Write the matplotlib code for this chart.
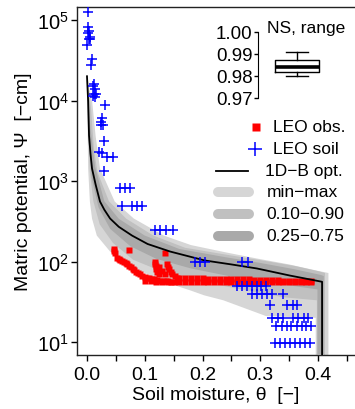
import numpy as np
import matplotlib
matplotlib.use('Agg')
import matplotlib.pyplot as plt
from matplotlib.ticker import FixedLocator, NullFormatter, FixedFormatter, NullLocator

plt.rcParams['font.family'] = ['Liberation Sans', 'DejaVu Sans']
plt.rcParams['mathtext.fontset'] = 'custom'
plt.rcParams['mathtext.rm'] = 'Liberation Sans'
plt.rcParams['mathtext.it'] = 'Liberation Sans:italic'

# ---------------- data ----------------
# 1D-B optimal retention curve (theta [-], psi [-cm])
line_theta = [0.0, 0.001, 0.002, 0.0035, 0.006, 0.0087, 0.015, 0.0225, 0.030, 0.040,
              0.055, 0.078, 0.105, 0.144, 0.204, 0.25, 0.294, 0.351, 0.407, 0.407]
line_psi = [20000, 14000, 9700, 3700, 2200, 1430, 900, 556, 440, 342,
            270, 210, 165, 133, 103, 92, 82, 67, 56, 5]

# min-max band
minmax_up_theta = [0.000, 0.004, 0.009, 0.015, 0.0225, 0.048, 0.081, 0.133, 0.18, 0.24,
                   0.294, 0.35, 0.398, 0.418, 0.418]
minmax_up_psi = [21000, 14000, 9700, 3600, 1430, 556, 342, 210, 160, 130,
                 109, 92, 77, 72, 5]
minmax_lo_theta = [0.396, 0.396, 0.31, 0.236, 0.203, 0.178, 0.133, 0.083, 0.04, 0.017,
                   0.0087, 0.005, 0.002, 0.0]
minmax_lo_psi = [5, 20, 21, 33, 38, 44, 56, 82, 133, 210, 342, 556, 1430, 21000]

# 0.10-0.90 band
q1090_up_theta = [0.000, 0.003, 0.007, 0.012, 0.018, 0.038, 0.068, 0.115, 0.17, 0.24,
                  0.30, 0.36, 0.40, 0.412, 0.412]
q1090_up_psi = [20000, 13000, 8000, 2500, 1300, 560, 340, 210, 148, 122,
                104, 88, 76, 72, 5]
q1090_lo_theta = [0.398, 0.398, 0.34, 0.26, 0.19, 0.13, 0.08, 0.045, 0.022, 0.011,
                  0.005, 0.002, 0.0]
q1090_lo_psi = [5, 33, 36, 46, 58, 75, 105, 170, 290, 560, 1300, 4000, 20000]

# 0.25-0.75 band
q2575_up_theta = [0.001, 0.003, 0.006, 0.014, 0.03, 0.055, 0.1, 0.16, 0.24, 0.30,
                  0.36, 0.405, 0.41, 0.41]
q2575_up_psi = [18000, 9000, 4500, 1500, 560, 340, 210, 143, 113, 96, 80, 68, 66, 5]
q2575_lo_theta = [0.399, 0.399, 0.33, 0.25, 0.18, 0.12, 0.075, 0.04, 0.02, 0.008,
                  0.003, 0.001]
q2575_lo_psi = [5, 45, 53, 65, 82, 108, 155, 255, 470, 1100, 3000, 18000]

# LEO observations (red squares)
obs_theta = [0.046, 0.047, 0.048, 0.073, 0.135,
             0.052, 0.055, 0.058, 0.061, 0.064, 0.067, 0.070, 0.073, 0.076, 0.079,
             0.082, 0.085, 0.088, 0.092, 0.096, 0.100, 0.104, 0.108, 0.112, 0.116,
             0.121, 0.126, 0.131, 0.136, 0.141, 0.146,
             0.118, 0.118, 0.119, 0.120, 0.121, 0.124,
             0.138, 0.140, 0.142, 0.145, 0.148, 0.152, 0.156,
             0.125, 0.130, 0.135,
             0.100, 0.110, 0.120, 0.130, 0.140, 0.150,
             0.160, 0.170, 0.180, 0.190, 0.200, 0.210, 0.220, 0.230, 0.240, 0.250,
             0.260, 0.270, 0.280, 0.290, 0.300, 0.310, 0.320, 0.330, 0.340, 0.350,
             0.360, 0.370, 0.380, 0.388,
             0.160, 0.170, 0.180, 0.190, 0.200, 0.210, 0.220, 0.230, 0.240, 0.250,
             0.260, 0.270, 0.280, 0.290, 0.300, 0.310, 0.320, 0.330, 0.340, 0.350,
             0.360, 0.370, 0.380, 0.388]
obs_psi = [145, 136, 128, 141, 129,
           112, 106, 103, 101, 99, 96, 93, 89, 85, 81,
           78, 75, 72, 69, 67, 65, 63, 62, 61, 60,
           59, 58, 57, 57, 57, 56,
           100, 94, 88, 81, 75, 69,
           92, 86, 80, 75, 70, 66, 63,
           85, 77, 70,
           58, 57, 56, 55, 55, 55,
           63, 63, 62, 62, 62, 61, 61, 61, 61, 60,
           60, 60, 60, 59, 59, 59, 59, 59, 58, 58,
           58, 58, 58, 57,
           55, 55, 55, 55, 55, 55, 55, 55, 55, 55,
           55, 55, 55, 55, 55, 55, 55, 55, 56, 56,
           56, 56, 56, 56]

# LEO soil samples (blue pluses)
soil_theta = [0.002, 0.002, 0.003, 0.002, 0.005, 0.003, 0.006, 0.000, 0.008, 0.007,
              0.012, 0.011, 0.014, 0.012, 0.016, 0.011, 0.014,
              0.031, 0.026, 0.024, 0.028, 0.025, 0.030, 0.020, 0.026, 0.034, 0.045, 0.029,
              0.058, 0.066, 0.074,
              0.060, 0.078, 0.087, 0.095,
              0.118, 0.126, 0.137, 0.149,
              0.187, 0.196, 0.204, 0.268, 0.278,
              0.259, 0.268, 0.277, 0.285, 0.294, 0.302, 0.310,
              0.285, 0.294, 0.303, 0.311, 0.320, 0.340,
              0.316, 0.347, 0.356, 0.364,
              0.321, 0.330, 0.339, 0.357, 0.366, 0.375, 0.383,
              0.328, 0.337, 0.346, 0.354, 0.363, 0.372, 0.380, 0.387,
              0.326, 0.334, 0.343, 0.352, 0.360, 0.369, 0.377, 0.386]
soil_psi = [126000, 82000, 73000, 69000, 61000, 58000, 58000, 49000, 33000, 28000,
            16000, 15000, 14000, 12000, 12000, 11500, 11000,
            8800, 6000, 5400, 5000, 4900, 3100, 2300, 2200, 2000, 2000, 1350,
            810, 810, 810,
            495, 495, 495, 495,
            243, 243, 243, 243,
            100, 100, 100, 100, 100,
            50, 50, 50, 50, 50, 50, 50,
            39, 39, 39, 39, 39, 39,
            29, 29, 29, 29,
            20, 20, 20, 20, 20, 20, 20,
            15.6, 15.6, 15.6, 15.6, 15.6, 15.6, 15.6, 15.6,
            9.8, 9.8, 9.8, 9.8, 9.8, 9.8, 9.8, 9.8]

# Nash-Sutcliffe range (box plot summary)
ns_whislo, ns_q1, ns_med, ns_q3, ns_whishi = 0.980, 0.982, 0.9843, 0.9875, 0.991
ns_ticks = [0.97, 0.98, 0.99, 1.00]

x_ticks = [0.0, 0.1, 0.2, 0.3, 0.4]
x_minor = [0.05, 0.15, 0.25, 0.35, 0.45]
y_ticks = [1e1, 1e2, 1e3, 1e4, 1e5]

legend_labels = ['LEO obs.', 'LEO soil', '1D\u2212B opt.', 'min\u2212max',
                 '0.10\u22120.90', '0.25\u22120.75']

c_minmax, c_1090, c_2575 = '#d6d6d6', '#c0c0c0', '#a9a9a9'

# ---------------- figure ----------------
W, H = 355, 410
fig = plt.figure(figsize=(W / 100, H / 100), dpi=100)

def px(x0, y0, x1, y1):
    return [x0 / W, 1 - y1 / H, (x1 - x0) / W, (y1 - y0) / H]

ax = fig.add_axes(px(77, 8, 355, 356))
ax.set_yscale('log')
ax.set_xlim(-0.0173, 0.464)
ax.set_ylim(6.9, 1.45e5)

ax.fill(minmax_up_theta + minmax_lo_theta, minmax_up_psi + minmax_lo_psi,
        color=c_minmax, lw=0, zorder=1)
ax.fill(q1090_up_theta + q1090_lo_theta, q1090_up_psi + q1090_lo_psi,
        color=c_1090, lw=0, zorder=2)
ax.fill(q2575_up_theta + q2575_lo_theta, q2575_up_psi + q2575_lo_psi,
        color=c_2575, lw=0, zorder=3)
ax.plot(obs_theta, obs_psi, 's', color='#ff0000', ms=5.0, mec='none', zorder=4)
ax.plot(line_theta, line_psi, '-', color='black', lw=1.3, zorder=5)
ax.plot(soil_theta, soil_psi, '+', color='#0000ff', ms=7, mew=1.1, zorder=6)

ax.spines['right'].set_visible(False)
for s in ['left', 'bottom', 'top']:
    ax.spines[s].set_linewidth(1.0)
    ax.spines[s].set_color('#222222')
ax.xaxis.set_major_locator(FixedLocator(x_ticks))
ax.xaxis.set_major_formatter(FixedFormatter(['%.1f' % v for v in x_ticks]))
ax.xaxis.set_minor_locator(FixedLocator(x_minor))
ax.xaxis.set_minor_formatter(NullFormatter())
ax.yaxis.set_major_locator(FixedLocator(y_ticks))
ax.yaxis.set_major_formatter(FixedFormatter(['$10^{%d}$' % int(np.log10(v)) for v in y_ticks]))
ax.yaxis.set_minor_locator(NullLocator())
ax.tick_params(axis='x', which='both', direction='out', length=4, width=1, pad=4, labelsize=14)
ax.tick_params(axis='y', which='both', direction='out', length=4, width=1, pad=2, labelsize=14.5)
ax.set_xlabel('Soil moisture, \u03b8  [\u2212]', fontsize=14, labelpad=2)
ax.set_ylabel('Matric potential, \u03a8  [\u2212cm]', fontsize=14, labelpad=3)

# inset box plot
iax = fig.add_axes(px(258, 33, 336, 99))
stats = [dict(whislo=ns_whislo, q1=ns_q1, med=ns_med, q3=ns_q3, whishi=ns_whishi)]
iax.bxp(stats, positions=[1.0], widths=1.13, showfliers=False, patch_artist=False,
        boxprops=dict(color='black', lw=1.0),
        medianprops=dict(color='black', lw=2.6),
        whiskerprops=dict(color='black', lw=1.0, linestyle='-'),
        capprops=dict(color='black', lw=1.0), capwidths=0.54)
iax.set_xlim(0, 2)
iax.set_ylim(0.97, 1.00)
iax.patch.set_alpha(0)
for s in ['right', 'top', 'bottom']:
    iax.spines[s].set_visible(False)
iax.set_xticks([])
iax.set_yticks(ns_ticks)
iax.set_yticklabels(['%.2f' % v for v in ns_ticks])
iax.tick_params(axis='y', length=3, width=1, pad=1, labelsize=13.5)

# overlay for legend and inset title (pixel coordinates)
lax = fig.add_axes([0, 0, 1, 1], zorder=10)
lax.set_xlim(0, W)
lax.set_ylim(H, 0)
lax.axis('off')
lax.text(306, 28, 'NS, range', ha='center', va='center', fontsize=12.5)

rows = [128, 150, 172, 193, 215, 237]
text_x = [273, 273, 265, 267, 266, 266]
lax.plot([256], [rows[0]], 's', color='#ff0000', ms=6, mec='none')
lax.plot([255], [rows[1]], '+', color='#0000ff', ms=9.5, mew=1.1)
lax.plot([216, 248], [rows[2]] * 2, '-', color='black', lw=1.3)
for r, c in zip(rows[3:], [c_minmax, c_1090, c_2575]):
    lax.plot([218, 249], [r, r], '-', color=c, lw=7.2, solid_capstyle='round')
for r, tx, lab in zip(rows, text_x, legend_labels):
    lax.text(tx, r, lab, ha='left', va='center', fontsize=12.5)

fig.savefig('out.png', dpi=100)
